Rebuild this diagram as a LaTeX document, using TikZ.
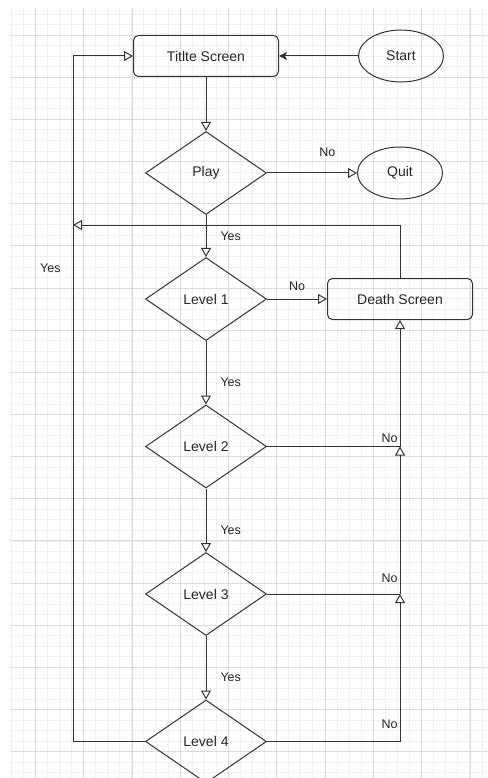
\documentclass[tikz,border=0pt]{standalone}
\usepackage{fontspec}
\setmainfont{Liberation Sans}
\usetikzlibrary{shapes.geometric, positioning, arrows.meta}
\tikzset{
>={Triangle[open, length=9pt, width=10pt]}, % hollow arrow heads
every node/.style={text=black!85}, % dark text everywhere
screen/.style={draw=black!80, line width=1pt, rounded corners=5pt, minimum width=145pt, minimum height=41pt, inner sep=0pt, font=\fontsize{14}{16}\selectfont}, % rounded boxes
check/.style={draw=black!80, line width=1pt, diamond, aspect=1.46, minimum width=121pt, minimum height=83pt, inner sep=0pt, font=\fontsize{14}{16}\selectfont}, % decisions
terminal/.style={draw=black!80, line width=1pt, ellipse, minimum width=85pt, minimum height=52pt, inner sep=0pt, font=\fontsize{14}{16}\selectfont}, % start and quit
answer/.style={font=\fontsize{12.5}{14}\selectfont, inner sep=2pt}, % Yes / No on the edges
link/.style={draw=black!80, line width=1pt}, % every connector
minorgrid/.style={draw=black!6, line width=0.8pt}, % light paper lines
majorgrid/.style={draw=black!14, line width=0.8pt}, % darker paper lines
}

\begin{document}
\begin{tikzpicture}[x=1pt, y=-1pt]
        \clip (0,0) rectangle (487,778);
        \fill[white] (0,0) rectangle (487,778);

        % grid paper
        \begin{scope}
        \clip (10,8) rectangle (487,778);
        \foreach \k in {0,...,39} \draw[minorgrid] ({11+12.075*\k},8) -- ++(0,770);
        \foreach \k in {1,...,74} \draw[minorgrid] (10,{3.4+10.54*\k}) -- ++(477,0);
        \foreach \k in {0,...,9} \draw[majorgrid] ({35.3+48.3*\k},8) -- ++(0,770);
        \foreach \k in {0,...,17} \draw[majorgrid] (10,{35+42.15*\k}) -- ++(477,0);
        \end{scope}

        \node[screen] (title) at (206,56) {Titlte Screen};
        \node[terminal, right=79pt of title] (start) {Start};
        \node[check, below=54pt of title] (play) {Play};
        \node[terminal, right=90pt of play] (quit) {Quit};
        \node[check, below=42pt of play] (l1) {Level 1};
        \node[screen, right=60pt of l1] (death) {Death Screen};
        \node[check, below=63.5pt of l1] (l2) {Level 2};
        \node[check, below=63.5pt of l2] (l3) {Level 3};
        \node[check, below=63.5pt of l3] (l4) {Level 4};

        \coordinate (back) at (73,225);
        \coordinate (j2) at (death |- l2);
        \coordinate (j3) at (death |- l3);
        \coordinate (j4) at (death |- l4);

        \draw[link, -{Stealth[length=8pt, width=8pt, inset=2pt]}] (start) -- (title);
        \draw[link, ->] (title) -- (play);
        \draw[link, ->] (play) -- node[answer, above=14pt, pos=0.67] {No} (quit);
        \draw[link, ->] (play) -- node[answer, right=12pt] {Yes} (l1);
        \draw[link, ->] (l1) -- node[answer, above=5.5pt] {No} (death);
        \draw[link, ->] (l1) -- node[answer, right=12pt, pos=0.65] {Yes} (l2);
        \draw[link, ->] (l2) -- node[answer, right=12pt, pos=0.65] {Yes} (l3);
        \draw[link, ->] (l3) -- node[answer, right=12pt, pos=0.65] {Yes} (l4);
        \draw[link, ->] (death) |- (back);
        \draw[link, ->] (l4) -- (l4 -| back) -- node[answer, left=10pt, pos=0.69] {Yes} (title -| back) -- (title);

        \draw[link] (l2) -- node[answer, pos=1, anchor=south east, yshift=1pt] {No} (j2);
        \draw[link] (l3) -- node[answer, pos=1, anchor=south east, yshift=9pt] {No} (j3);
        \draw[link] (l4) -- node[answer, pos=1, anchor=south east, yshift=10pt] {No} (j4);
        \draw[link, ->] (j4) -- (j3);
        \draw[link, ->] (j3) -- (j2);
        \draw[link, ->] (j2) -- (death);
      \end{tikzpicture}
\end{document}
